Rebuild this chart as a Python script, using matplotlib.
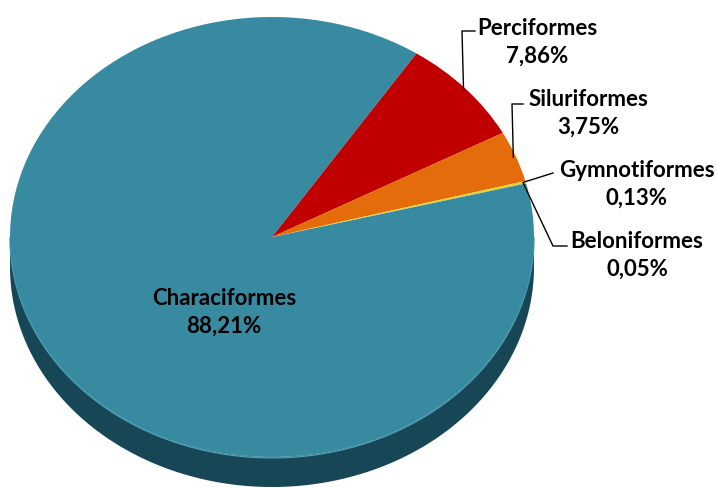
import numpy as np
import matplotlib.pyplot as plt

# fish orders and their share of the catch (%)
orders = ['Characiformes', 'Perciformes', 'Siluriformes', 'Gymnotiformes', 'Beloniformes']
shares = [88.21, 7.86, 3.75, 0.13, 0.05]
pct_labels = ['88,21%', '7,86%', '3,75%', '0,13%', '0,05%']
colors = ['#388aa0', '#c00000', '#e46c0a', '#f2d21c', '#9bbb59']

W, H = 717, 489
CX, CY, RX, RY, DEPTH = 272, 238, 262, 220, 30   # pie ellipse in pixels


def px(x, y):
    # pixel position -> unit-ellipse data coords
    return (x - CX) / RX, (CY - y) / RY


fig = plt.figure(figsize=(W / 100, H / 100), dpi=100)
ax = fig.add_axes([0, 0, 1, 1])

# 3D side of the pie (front half only)
t = np.linspace(np.pi, 2 * np.pi, 300)
d = DEPTH / RY
xs = np.concatenate([np.cos(t), np.cos(t[::-1])])
ys = np.concatenate([np.sin(t), np.sin(t[::-1]) - d])
ax.fill(xs, ys, color='#174656', zorder=1, lw=0)
ax.plot(np.cos(t), np.sin(t) - 0.004, color='#4d9db3', lw=1.0, zorder=1.5)

wedges, _ = ax.pie(shares, colors=colors, startangle=14.1, counterclock=False,
                   radius=1, wedgeprops=dict(linewidth=0, zorder=2))
ax.set_aspect('auto')
x0, y1 = px(0, 0)
x1, y0 = px(W, H)
ax.set_xlim(x0, x1)
ax.set_ylim(y0, y1)
ax.axis('off')

font = dict(family=['Lato', 'DejaVu Sans'], fontweight='bold', fontsize=16,
            color='black', ha='center', va='center', linespacing=1.4)

# label block centres and leader elbows (pixels)
label_pos = [(224, 312), (537, 42), (588, 113), (637, 184), (637, 255)]
elbows = [None,
          [(462, 32), (475, 32)],
          [(512, 105), (523, 105)],
          [(553, 174)],
          [(553, 247), (567, 247)]]

for i, w in enumerate(wedges):
    ax.text(*px(*label_pos[i]), f'{orders[i]}\n{pct_labels[i]}', zorder=5, **font)
    if elbows[i] is None:
        continue
    mid = np.deg2rad((w.theta1 + w.theta2) / 2)
    pts = [(np.cos(mid) * 0.99, np.sin(mid) * 0.99)] + [px(*p) for p in elbows[i]]
    lx, ly = zip(*pts)
    ax.plot(lx, ly, color='black', lw=1.0, zorder=4)

fig.savefig('out.png', dpi=100)
